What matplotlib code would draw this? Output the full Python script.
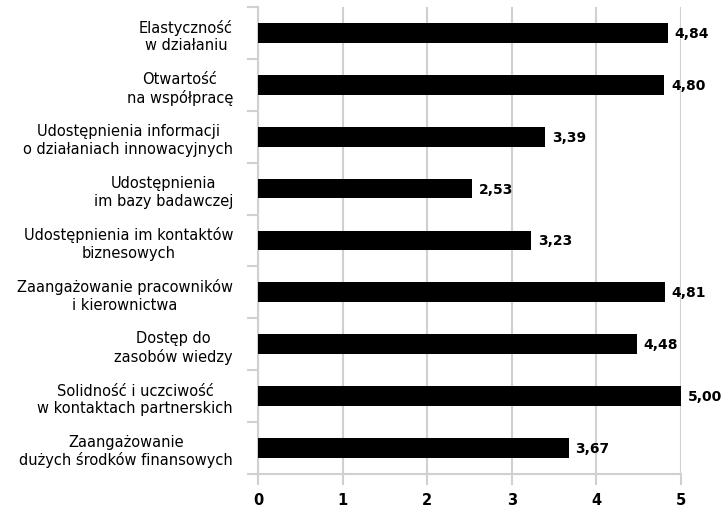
import numpy as np
import matplotlib.pyplot as plt

# Ocena czynników współpracy (średnie)
categories = [
    "Elastyczność\nw działaniu",
    "Otwartość\nna współpracę",
    "Udostępnienia informacji\no działaniach innowacyjnych",
    "Udostępnienia\nim bazy badawczej",
    "Udostępnienia im kontaktów\nbiznesowych",
    "Zaangażowanie pracowników\ni kierownictwa",
    "Dostęp do\nzasobów wiedzy",
    "Solidność i uczciwość\nw kontaktach partnerskich",
    "Zaangażowanie\ndużych środków finansowych",
]
values = [4.84, 4.80, 3.39, 2.53, 3.23, 4.81, 4.48, 5.00, 3.67]
x_ticks = [0, 1, 2, 3, 4, 5]

plt.rcParams['font.family'] = ['DejaVu Sans']
grid_col = '#d0d0d0'

fig = plt.figure(figsize=(7.23, 5.10), dpi=100)
ax = fig.add_axes([0.357, 0.069, 0.585, 0.915])

y = np.arange(len(categories))
ax.barh(y, values, height=0.38, color='black', zorder=3)

for yi, v in zip(y, values):
    ax.text(v + 0.08, yi, f"{v:.2f}".replace('.', ','), va='center', ha='left',
            fontsize=10, fontweight='bold', zorder=4)

ax.set_xlim(0, 5)
ax.set_ylim(len(categories) - 0.5, -0.5)
ax.set_xticks(x_ticks)
ax.set_xticklabels([str(t) for t in x_ticks], fontsize=10.5, fontweight='bold')
ax.set_yticks(y)
ax.set_yticklabels(categories, fontsize=10.5)
for lbl in ax.get_yticklabels():
    lbl.set_multialignment('center')
ax.set_yticks(np.arange(len(categories) + 1) - 0.5, minor=True)

ax.grid(axis='x', color=grid_col, linewidth=1.5, zorder=0)
ax.tick_params(axis='y', which='major', length=0, pad=18)
ax.tick_params(axis='y', which='minor', length=8, color=grid_col, width=1.5)
ax.tick_params(axis='x', length=8, color=grid_col, width=1.5, pad=5)

for side in ['top', 'right']:
    ax.spines[side].set_visible(False)
for side in ['left', 'bottom']:
    ax.spines[side].set_color(grid_col)
    ax.spines[side].set_linewidth(1.5)

fig.savefig('out.png', dpi=100)
plt.close()
